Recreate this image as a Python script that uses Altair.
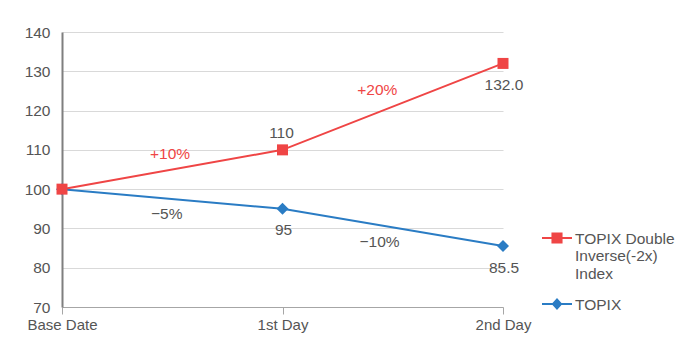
import json
import altair as alt
import pandas as pd

FONT = "Liberation Sans"
RED = "#ef4545"
BLUE = "#2a7cc4"
GRAY_TEXT = "#555555"

# ---- data ----
days = ["Base Date", "1st Day", "2nd Day"]
day_index = [0, 1, 2]

inverse_name = "TOPIX Double\nInverse(-2x)\nIndex"
topix_name = "TOPIX"

inverse_values = [100, 110, 132.0]
topix_values = [100, 95, 85.5]

inverse_labels = ["", "110", "132.0"]
inverse_side = ["", "above", "below"]
topix_labels = ["", "95", "85.5"]
topix_side = ["", "below", "below"]

change_x = [0.49, 1.43, 0.475, 1.44]
change_y = [108.9, 125.2, 93.6, 86.55]
change_text = ["+10%", "+20%", "\u22125%", "\u221210%"]
change_color = [RED, RED, GRAY_TEXT, GRAY_TEXT]

# ---- tables ----
rows = []
for i, v, lab, side in zip(day_index, inverse_values, inverse_labels, inverse_side):
    rows.append({"x": i, "y": v, "series": inverse_name, "key": "inv", "label": lab, "side": side})
for i, v, lab, side in zip(day_index, topix_values, topix_labels, topix_side):
    rows.append({"x": i, "y": v, "series": topix_name, "key": "topix", "label": lab, "side": side})
df = pd.DataFrame(rows)

chg = pd.DataFrame({"x": change_x, "y": change_y, "text": change_text, "c": change_color})

# ---- scales / axes ----
x_scale = alt.Scale(domain=[0, 2], nice=False, zero=False)
y_scale = alt.Scale(domain=[70, 140], nice=False, zero=False)

label_expr = json.dumps(days) + "[datum.value]"
x_axis = alt.Axis(
    values=day_index, labelExpr=label_expr, title=None, grid=False,
    domainColor="#a6a6a6", domainWidth=1, tickColor="#a6a6a6", tickSize=7,
    labelPadding=3, labelFont=FONT, labelFontSize=15, labelColor=GRAY_TEXT,
    labelOverlap=False, labelFlush=False,
)
y_axis = alt.Axis(
    values=[70, 80, 90, 100, 110, 120, 130, 140], title=None, ticks=False, tickSize=0,
    domainColor="#7f7f7f", domainWidth=2, gridColor="#d9d9d9", gridWidth=1,
    labelPadding=12, labelFont=FONT, labelFontSize=15.5, labelColor=GRAY_TEXT,
)

X = alt.X("x:Q", scale=x_scale, axis=x_axis)
Y = alt.Y("y:Q", scale=y_scale, axis=y_axis)

base = alt.Chart(df).encode(x=X, y=Y)

line_inv = base.transform_filter(alt.datum.key == "inv").mark_line(color=RED, strokeWidth=2)
line_top = base.transform_filter(alt.datum.key == "topix").mark_line(color=BLUE, strokeWidth=2)
pts_inv = base.transform_filter(alt.datum.key == "inv").mark_point(
    shape="square", filled=True, size=121, color=RED, opacity=1)
pts_top = base.transform_filter(alt.datum.key == "topix").mark_point(
    shape="diamond", filled=True, size=144, color=BLUE, opacity=1)

# legend symbols: line + marker, shifted down to sit on first label line
sym_red = "M-1,0.363H1V0.497H-1Z M-0.37,0.06H0.37V0.8H-0.37Z"
sym_blue = "M-1,0.363H1V0.497H-1Z M0,0.03L0.36,0.43L0,0.83L-0.36,0.43Z"

legend = alt.Legend(
    title=None, orient="none", legendX=480, legendY=184.5, padding=0,
    labelFont=FONT, labelFontSize=15.5, labelColor=GRAY_TEXT, labelBaseline="top",
    labelOffset=3, rowPadding=-3, symbolSize=900, symbolStrokeWidth=0,
    symbolOpacity=1, labelLimit=300, labelExpr="split(datum.label, '\\n')",
)
legend_layer = alt.Chart(df).mark_point(filled=True, opacity=0).encode(
    x=X, y=Y,
    color=alt.Color("series:N", scale=alt.Scale(domain=[inverse_name, topix_name], range=[RED, BLUE]), legend=legend),
    shape=alt.Shape("series:N", scale=alt.Scale(domain=[inverse_name, topix_name], range=[sym_red, sym_blue]), legend=legend),
)

val_above = base.transform_filter(alt.datum.side == "above").mark_text(
    dy=-17, dx=-1, font=FONT, fontSize=15.5, color=GRAY_TEXT).encode(text="label:N")
val_below = base.transform_filter(alt.datum.side == "below").mark_text(
    dy=21.5, dx=1, font=FONT, fontSize=15.5, color=GRAY_TEXT).encode(text="label:N")

chg_text = alt.Chart(chg).mark_text(font=FONT, fontSize=15.5).encode(
    x=X, y=Y, text="text:N", color=alt.Color("c:N", scale=None))

chart = alt.layer(
    line_top, line_inv, pts_top, pts_inv, legend_layer, val_above, val_below, chg_text
).properties(
    width=441, height=275,
    autosize=alt.AutoSizeParams(type="none"),
    padding={"left": 54, "top": 24, "right": 189, "bottom": 42},
).configure_view(stroke=None)

chart.save("out.html", embed_options={"renderer": "svg", "actions": False})
